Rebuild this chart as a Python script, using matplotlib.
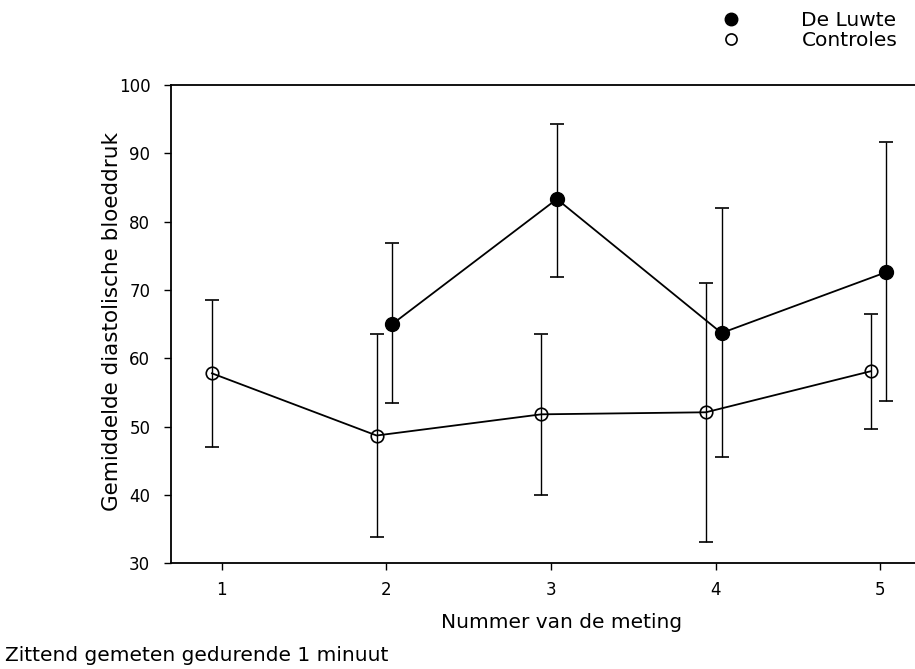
import numpy as np
import matplotlib.pyplot as plt
from matplotlib.lines import Line2D

metingen = [1, 2, 3, 4, 5]

# De Luwte (geen meting 1)
luwte_x = [2, 3, 4, 5]
luwte_mean = [65.0, 83.3, 63.7, 72.6]
luwte_hi = [76.8, 94.3, 82.0, 91.6]
luwte_lo = [53.5, 71.9, 45.5, 53.7]

# Controles
ctrl_x = [1, 2, 3, 4, 5]
ctrl_mean = [57.8, 48.7, 51.8, 52.1, 58.1]
ctrl_hi = [68.5, 63.5, 63.6, 71.0, 66.5]
ctrl_lo = [47.0, 33.9, 40.0, 33.1, 49.7]

yticks = [30, 40, 50, 60, 70, 80, 90, 100]

plt.rcParams["font.family"] = "DejaVu Sans"

fig = plt.figure(figsize=(9.15, 6.69), dpi=100)
ax = fig.add_axes([0.187, 0.158, 0.813, 0.715])

lx = np.array(luwte_x) + 0.035
cx = np.array(ctrl_x) - 0.06

# open circles: lines show through (crosshair look, as in the original)
ax.errorbar(cx, ctrl_mean,
            yerr=[np.array(ctrl_mean) - np.array(ctrl_lo), np.array(ctrl_hi) - np.array(ctrl_mean)],
            fmt="-o", color="black", mfc="none", mec="black", ms=9, mew=1.2,
            lw=1.3, elinewidth=1.0, capsize=5, capthick=1.2, zorder=2)
ax.errorbar(lx, luwte_mean,
            yerr=[np.array(luwte_mean) - np.array(luwte_lo), np.array(luwte_hi) - np.array(luwte_mean)],
            fmt="-o", color="black", mfc="black", mec="black", ms=10,
            lw=1.3, elinewidth=1.0, capsize=5, capthick=1.2, zorder=3)

ax.set_xlim(0.692, 5.21)
ax.set_ylim(30, 100)
ax.set_xticks(metingen)
ax.set_yticks(yticks)
ax.tick_params(labelsize=12, direction="out", length=5, width=1)
ax.tick_params(axis="y", pad=10)
ax.tick_params(axis="x", pad=8)
ax.spines["right"].set_visible(False)
for s in ["left", "bottom", "top"]:
    ax.spines[s].set_linewidth(1.3)

fig.text(0.122, 0.52, "Gemiddelde diastolische bloeddruk", fontsize=15.5,
         rotation=90, ha="center", va="center")
fig.text(0.614, 0.07, "Nummer van de meting", fontsize=14.5, ha="center", va="center")
fig.text(0.005, 0.02, "Zittend gemeten gedurende 1 minuut", fontsize=14.5, ha="left", va="center")

handles = [
    Line2D([], [], ls="none", marker="o", color="black", mfc="black", ms=9),
    Line2D([], [], ls="none", marker="o", color="black", mfc="white", ms=8, mew=1.2),
]
fig.legend(handles, ["De Luwte", "Controles"], loc="upper left",
           bbox_to_anchor=(0.768, 0.995), frameon=False, fontsize=14.5,
           handletextpad=2.5, labelspacing=0.05, borderaxespad=0.0)

fig.savefig("out.png", dpi=100)
